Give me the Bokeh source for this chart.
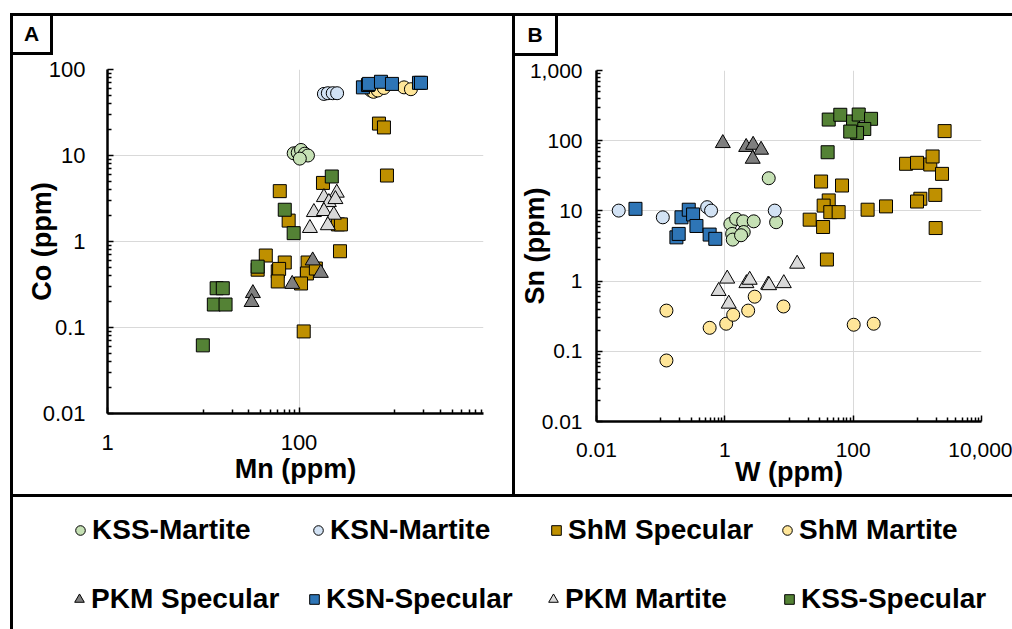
from bokeh.plotting import figure
from bokeh.models import (Range1d, FixedTicker, Legend, LegendItem, CustomJSTickFormatter, Spacer, Div)
from bokeh.layouts import column, row
from bokeh.embed import file_html
from bokeh.resources import INLINE

FONT = "Liberation Sans"

# ---------------- Panel A: Mn vs Co (ppm) ----------------
kss_martite_mn = [88, 97, 105, 115, 124, 102]
kss_martite_co = [10.6, 10.8, 11.6, 10.5, 10.0, 9.2]
ksn_martite_mn = [182, 200, 225, 250]
ksn_martite_co = [52, 53, 53, 53]
shm_specular_mn = [684, 771, 829, 63, 178, 78, 255, 274, 45, 268, 37, 71, 60, 62, 60, 123, 121, 150, 105, 112]
shm_specular_co = [23.5, 21.2, 5.85, 3.85, 4.8, 1.75, 1.58, 1.58, 0.687, 0.77, 0.47, 0.57, 0.45, 0.48, 0.343,
                   0.57, 0.425, 0.485, 0.325, 0.09]
shm_martite_mn = [563, 600, 665, 770, 1250, 1475]
shm_martite_co = [57, 55, 57, 61, 62, 59]
pkm_specular_mn = [139, 169, 85, 33, 32]
pkm_specular_co = [0.60, 0.43, 0.32, 0.25, 0.197]
ksn_specular_mn = [465, 525, 537, 718, 935, 1790, 1880]
ksn_specular_co = [62, 66, 68, 72, 68, 70, 70]
pkm_martite_mn = [182, 248, 205, 240, 143, 182, 231, 130, 200]
pkm_martite_co = [3.27, 3.68, 2.86, 3.1, 2.19, 2.25, 2.04, 1.43, 1.54]
kss_specular_mn = [220, 71, 88, 37, 13.8, 16, 12.9, 17.1, 9.9]
kss_specular_co = [5.7, 2.34, 1.25, 0.51, 0.286, 0.286, 0.185, 0.185, 0.062]

# ---------------- Panel B: W vs Sn (ppm) ----------------
kss_martite_w = [1.22, 1.50, 1.93, 2.82, 1.30, 1.97, 1.33, 1.79, 4.83, 6.3]
kss_martite_sn = [6.5, 7.7, 7.1, 7.1, 4.7, 5.0, 3.9, 4.5, 29.2, 6.9]
ksn_martite_w = [0.0222, 0.108, 0.53, 0.61, 6.0]
ksn_martite_sn = [10.1, 8.1, 11.3, 10.1, 10.1]
shm_specular_w = [2660, 667, 989, 1592, 1730, 2425, 31.6, 67, 41.6, 34.7, 44, 59.4, 168, 325, 1114, 989, 1905,
                  21, 34, 1930, 39]
shm_specular_sn = [137, 46.9, 48.4, 45.8, 59.6, 33.7, 26.2, 23, 14.1, 11.9, 9.6, 9.6, 10.4, 11.6, 14.9, 13.6, 16.9,
                   7.5, 5.9, 5.7, 2.03]
shm_martite_w = [0.123, 0.123, 0.58, 1.05, 1.35, 2.31, 2.92, 8.2, 102, 209]
shm_martite_sn = [0.38, 0.074, 0.216, 0.247, 0.331, 0.38, 0.60, 0.435, 0.239, 0.247]
pkm_specular_w = [0.93, 2.15, 2.76, 3.67, 2.72]
pkm_specular_sn = [92, 81, 87, 74, 55]
ksn_specular_w = [0.0405, 0.211, 0.274, 0.32, 0.361, 0.176, 0.191, 0.58, 0.71]
ksn_specular_sn = [10.7, 8.1, 10.4, 8.9, 6.1, 4.2, 4.7, 4.6, 4.0]
pkm_martite_w = [1.09, 0.80, 1.15, 2.17, 2.44, 4.73, 4.9, 8.3, 13.4]
pkm_martite_sn = [1.08, 0.72, 0.475, 0.93, 1.04, 0.885, 0.87, 0.93, 1.76]
kss_specular_w = [41.6, 63, 99.6, 122, 190, 149, 115, 90, 40]
kss_specular_sn = [200, 234, 188, 236, 205, 147, 129, 135, 68.5]

# name, marker, fill colour, panel A x/y, panel B x/y
SERIES = [
    ("KSS-Martite", "circle", "#c5e0b4", kss_martite_mn, kss_martite_co, kss_martite_w, kss_martite_sn),
    ("KSN-Martite", "circle", "#d2e2f4", ksn_martite_mn, ksn_martite_co, ksn_martite_w, ksn_martite_sn),
    ("ShM Specular", "square", "#bf9000", shm_specular_mn, shm_specular_co, shm_specular_w, shm_specular_sn),
    ("ShM Martite", "circle", "#ffe699", shm_martite_mn, shm_martite_co, shm_martite_w, shm_martite_sn),
    ("PKM Specular", "triangle", "#7f7f7f", pkm_specular_mn, pkm_specular_co, pkm_specular_w, pkm_specular_sn),
    ("KSN-Specular", "square", "#2e75b6", ksn_specular_mn, ksn_specular_co, ksn_specular_w, ksn_specular_sn),
    ("PKM Martite", "triangle", "#d9d9d9", pkm_martite_mn, pkm_martite_co, pkm_martite_w, pkm_martite_sn),
    ("KSS-Specular", "square", "#548235", kss_specular_mn, kss_specular_co, kss_specular_w, kss_specular_sn),
]
MSIZE = {"circle": 13, "square": 13, "triangle": 15}

# tick values
a_x_major = [1, 100, 10000]
a_x_minor = [10 * m for m in range(1, 10)] + [1000 * m for m in range(1, 10)]
a_y_major = [0.01, 0.1, 1, 10, 100]
b_x_major = [0.01, 1, 100, 10000]
b_x_minor = [0.1 * m for m in range(1, 10)] + [10 * m for m in range(1, 10)] + [1000 * m for m in range(1, 10)]
b_y_major = [0.01, 0.1, 1, 10, 100, 1000]


def decade_minors(majors):
    out = []
    for d in majors[:-1]:
        out += [d * m for m in range(2, 10)]
    return out


def bar(w, h, color="black"):
    return Spacer(width=w, height=h, margin=0, styles={"background-color": color})


def blank(w, h):
    return Spacer(width=w, height=h, margin=0)


def label_box(text, w, h):
    d = Div(text=text, width=w, height=h, margin=0,
            styles={"font-family": FONT, "font-weight": "bold", "font-size": "21px", "color": "black",
                    "display": "flex", "align-items": "center", "justify-content": "center",
                    "background-color": "white"})
    return column(row(d, bar(3, h), spacing=0), bar(w + 3, 3), spacing=0)


def make_panel(width, height, borders, xr, yr, xt, xminor, yt, yminor,
               xstd, ystd, xtitle, ytitle, xtstd, ytstd, tick_font):
    l, r, t, b = borders
    p = figure(width=width, height=height, x_axis_type="log", y_axis_type="log",
               x_range=Range1d(*xr), y_range=Range1d(*yr),
               toolbar_location=None, output_backend="svg",
               min_border_left=l, min_border_right=r, min_border_top=t, min_border_bottom=b)
    p.outline_line_color = None
    p.background_fill_color = "white"
    p.border_fill_color = "white"
    fmt = CustomJSTickFormatter(code="return tick.toLocaleString('en-US', {maximumFractionDigits: 3});")
    xtick = FixedTicker(ticks=xt, minor_ticks=xminor)
    ytick = FixedTicker(ticks=yt, minor_ticks=yminor)
    p.xaxis.ticker = xtick
    p.yaxis.ticker = ytick
    p.xgrid.ticker = xtick
    p.ygrid.ticker = ytick
    for ax in (p.xaxis[0], p.yaxis[0]):
        ax.formatter = fmt
        ax.axis_line_color = "black"
        ax.axis_line_width = 2.5
        ax.major_tick_in = 6
        ax.major_tick_out = 0
        ax.minor_tick_in = 4
        ax.minor_tick_out = 0
        ax.major_tick_line_width = 1.5
        ax.minor_tick_line_width = 1.5
        ax.major_tick_line_color = "black"
        ax.minor_tick_line_color = "black"
        ax.major_label_text_font = FONT
        ax.major_label_text_font_size = tick_font
        ax.major_label_text_color = "black"
        ax.axis_label_text_font = FONT
        ax.axis_label_text_font_size = "27px"
        ax.axis_label_text_font_style = "bold"
        ax.axis_label_text_color = "black"
    p.xaxis.major_label_standoff = xstd
    p.yaxis.major_label_standoff = ystd
    p.xaxis.axis_label = xtitle
    p.yaxis.axis_label = ytitle
    p.xaxis.axis_label_standoff = xtstd
    p.yaxis.axis_label_standoff = ytstd
    for g in (p.xgrid[0], p.ygrid[0]):
        g.grid_line_color = "#d9d9d9"
        g.grid_line_width = 1
    return p


# Panel A : canvas origin (13, 55), frame x 107..483, y 69..413
pA = make_panel(499, 439, (94, 29, 14, 81), (1, 8450), (0.01, 100),
                a_x_major, a_x_minor, a_y_major, decade_minors(a_y_major),
                21, 22, "Mn (ppm)", "Co (ppm)", 1, -17, "22px")
# Panel B : canvas origin (515, 56), frame x 596..981, y 70..421
pB = make_panel(497, 438, (81, 31, 14, 73), (0.01, 10000), (0.01, 1000),
                b_x_major, b_x_minor, b_y_major, decade_minors(b_y_major),
                21, 14, "W (ppm)", "Sn (ppm)", -3, -23, "21px")

for name, marker, color, ax_, ay_, bx_, by_ in SERIES:
    pA.scatter(ax_, ay_, marker=marker, size=MSIZE[marker], fill_color=color,
               line_color="black", line_width=1)
    pB.scatter(bx_, by_, marker=marker, size=MSIZE[marker], fill_color=color,
               line_color="black", line_width=1)

# legend strip (frame = whole canvas; series points lie outside its 0..1 view)
pL = figure(width=999, height=132, toolbar_location=None, output_backend="svg",
            x_axis_location=None, y_axis_location=None, min_border=0,
            x_range=Range1d(0, 1), y_range=Range1d(0, 1))
pL.outline_line_color = None
pL.xgrid.visible = False
pL.ygrid.visible = False

legend_pos = [(55, 83), (293, 83), (531, 83), (762, 83),
              (54, 14), (289, 14), (528, 14), (764, 14)]
for (name, marker, color, ax_, ay_, bx_, by_), loc in zip(SERIES, legend_pos):
    r = pL.scatter(ax_, ay_, marker=marker, size=10, fill_color=color, line_color="black", line_width=1)
    leg = Legend(items=[LegendItem(label=name, renderers=[r])], location=loc,
                 glyph_width=24, glyph_height=24, label_standoff=0, padding=0, margin=0,
                 border_line_color=None, background_fill_alpha=0,
                 label_text_font=FONT, label_text_font_size="28px", label_text_font_style="bold",
                 label_text_color="black")
    pL.add_layout(leg)

colA = column(row(label_box("A", 37, 36), blank(459, 39), spacing=0), pA, spacing=0)
colB = column(row(label_box("B", 40, 37), blank(454, 40), spacing=0), pB, spacing=0)

layout = column(
    blank(1012, 13),
    row(blank(10, 3), bar(1002, 3), spacing=0),
    row(blank(10, 478), bar(3, 478), colA, bar(3, 478), colB, spacing=0),
    row(blank(10, 3), bar(1002, 3), spacing=0),
    row(blank(10, 132), bar(3, 132), pL, spacing=0),
    spacing=0,
)
open("out.html", "w").write(file_html(layout, INLINE))
